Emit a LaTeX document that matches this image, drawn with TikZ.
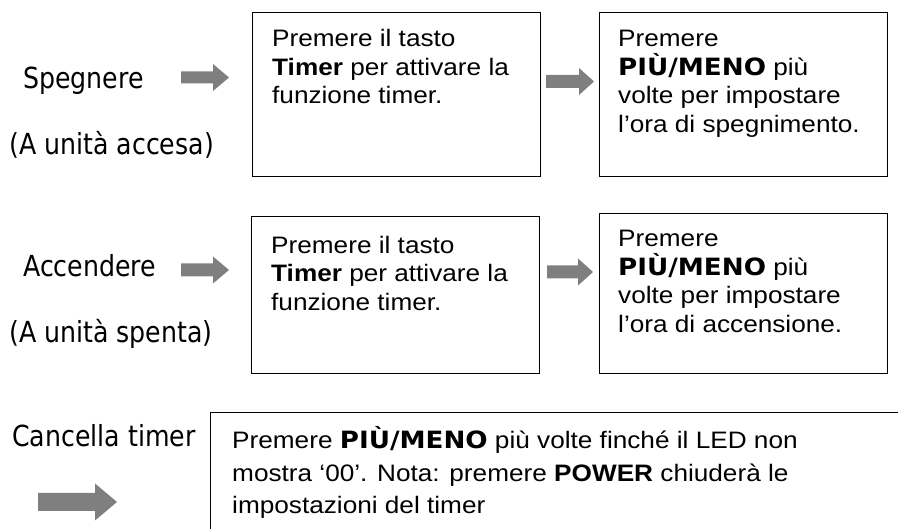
\documentclass[tikz,border=0pt]{standalone}
\usepackage{fontspec}
\setmainfont{Liberation Sans}[FakeStretch=1.1]
\newfontfamily\labfont{DejaVu Sans}[FakeStretch=0.87]
\newfontfamily\keyfont{DejaVu Sans}[FakeStretch=1.1]
\definecolor{arrowgray}{RGB}{127,127,127}
\newcommand{\key}[1]{{\keyfont\bfseries #1}}
\newcommand{\fatarrow}[6]{%
\fill[arrowgray] (#1,{#3-#4}) -- ({#2-#6},{#3-#4}) -- ({#2-#6},{#3-#5}) -- (#2,#3)
  -- ({#2-#6},{#3+#5}) -- ({#2-#6},{#3+#4}) -- (#1,{#3+#4}) -- cycle;}

\begin{document}
\begin{tikzpicture}[
x=1pt,y=-1pt,
box/.style={draw,line width=1.2pt,inner sep=0pt,anchor=north west},
txt/.style={anchor=base west,inner sep=0pt,align=left,font=\fontsize{23.8}{28.5}\selectfont},
lab/.style={anchor=base west,inner sep=0pt,font=\labfont\fontsize{29}{34}\selectfont}
]
\useasboundingbox (0,0) rectangle (898,529);
\clip (0,0) rectangle (898,529);
\node[lab] (off) at (23,88.3) {Spegnere};
\node[lab] (offcond) at (9,154.5) {(A unità accesa)};
\node[box,minimum width=288pt,minimum height=164pt] (off1) at (252,12) {};
\node[txt] (off1t) at (272,103.7) {Premere il tasto\\\textbf{Timer} per attivare la\\funzione timer.};
\node[box,minimum width=288pt,minimum height=164pt] (off2) at (599,12) {};
\node[txt] (off2t) at (618,132.2) {Premere\\\key{PIÙ/MENO} più\\volte per impostare\\l’ora di spegnimento.};
\fatarrow{181}{229}{77.5}{6}{13.5}{16}
\fatarrow{546}{594}{81.5}{6.5}{13.5}{15}
\node[lab] (on) at (23,276.7) {Accendere};
\node[lab] (oncond) at (9,343) {(A unità spenta)};
\node[box,minimum width=288pt,minimum height=157pt] (on1) at (251,216) {};
\node[txt] (on1t) at (271,310.3) {Premere il tasto\\\textbf{Timer} per attivare la\\funzione timer.};
\node[box,minimum width=288pt,minimum height=160pt] (on2) at (599,213) {};
\node[txt] (on2t) at (618,332.5) {Premere\\\key{PIÙ/MENO} più\\volte per impostare\\l’ora di accensione.};
\fatarrow{181}{229}{270}{6.5}{13.5}{16}
\fatarrow{547}{593}{272}{6.5}{13.5}{15}
\node[lab] (clr) at (12,446.7) {Cancella timer};
\node[box,minimum width=720pt,minimum height=140pt] (clr1) at (210,412) {};
\node[txt,font=\fontsize{23.8}{33}\selectfont] (clr1t) at (232,514) {Premere \key{PIÙ/MENO} più volte finché il LED non\\mostra ‘00’. Nota: premere \textbf{POWER} chiuderà le\\impostazioni del timer};
\fatarrow{38}{117}{502}{9}{18.5}{22}
\end{tikzpicture}
\end{document}
